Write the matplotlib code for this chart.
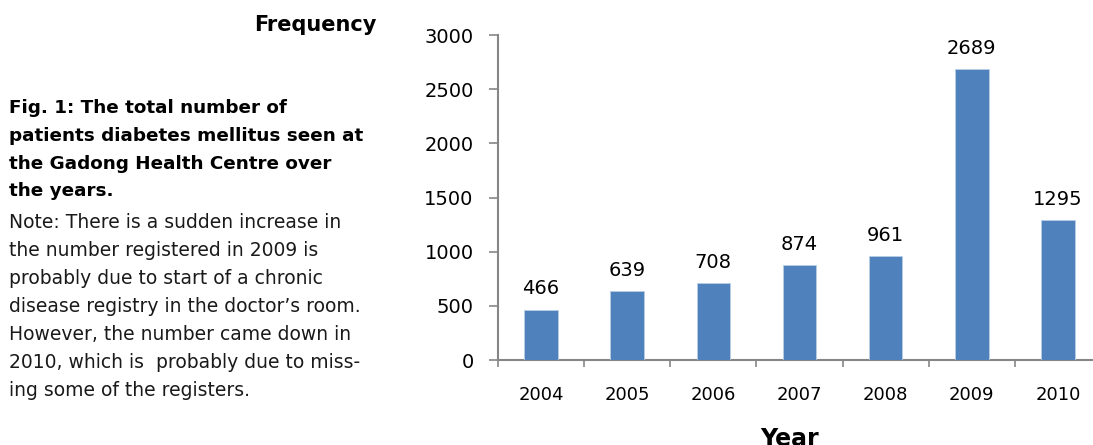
import matplotlib
matplotlib.use("Agg")
import matplotlib.pyplot as plt

years = ["2004", "2005", "2006", "2007", "2008", "2009", "2010"]
patients = [466, 639, 708, 874, 961, 2689, 1295]
y_ticks = [0, 500, 1000, 1500, 2000, 2500, 3000]

caption_bold = ("Fig. 1: The total number of\n"
                "patients diabetes mellitus seen at\n"
                "the Gadong Health Centre over\n"
                "the years.")
caption_note = ("Note: There is a sudden increase in\n"
                "the number registered in 2009 is\n"
                "probably due to start of a chronic\n"
                "disease registry in the doctor\u2019s room.\n"
                "However, the number came down in\n"
                "2010, which is  probably due to miss-\n"
                "ing some of the registers.")

W, H = 1093, 445
fig = plt.figure(figsize=(W / 100, H / 100), dpi=100)
fig.patch.set_facecolor("white")

# axes box: y-axis at x=498px, value 0 at y=360px, 3000 at y=35px
ax = fig.add_axes([498 / W, (H - 360) / H, 603 / W, 325 / H])

bar_color = "#4F81BD"
x = list(range(len(years)))
ax.bar(x, patients, width=0.39, color=bar_color,
       edgecolor="#B9CDE5", linewidth=0.6, zorder=3)

for xi, v in zip(x, patients):
    ax.annotate(str(v), (xi, v), xytext=(0, 8), textcoords="offset points",
                ha="center", va="bottom", fontsize=14, color="black")

ax.set_xlim(-0.5, 6.5)
ax.set_ylim(0, 3000)
ax.set_yticks(y_ticks)
ax.set_yticklabels([str(t) for t in y_ticks])

# tick marks sit between categories, labels at the category centres
ax.set_xticks([i - 0.5 for i in range(len(years) + 1)])
ax.set_xticklabels([])
ax.set_xticks(x, minor=True)
ax.set_xticklabels(years, minor=True)
ax.tick_params(axis="x", which="major", length=5, width=1.2, color="#868686", direction="out")
ax.tick_params(axis="x", which="minor", length=0, pad=19, labelsize=13)
ax.tick_params(axis="y", length=6.5, width=1.2, color="#868686", pad=11, labelsize=14)

for side in ["top", "right"]:
    ax.spines[side].set_visible(False)
for side in ["left", "bottom"]:
    ax.spines[side].set_color("#868686")
    ax.spines[side].set_linewidth(1.5)

fig.text(377 / W, 1 - 25 / H, "Frequency", ha="right", va="center",
         fontsize=15, fontweight="bold")
fig.text(790 / W, 1 - 427 / H, "Year", ha="center", va="top",
         fontsize=17, fontweight="bold")

fig.text(9 / W, 1 - 99 / H, caption_bold, ha="left", va="top",
         fontsize=13.2, fontweight="bold", linespacing=1.7)
fig.text(9 / W, 1 - 213 / H, caption_note, ha="left", va="top",
         fontsize=13.5, linespacing=1.6, color="#1a1a1a")

fig.savefig("out.png", dpi=100, facecolor="white")
